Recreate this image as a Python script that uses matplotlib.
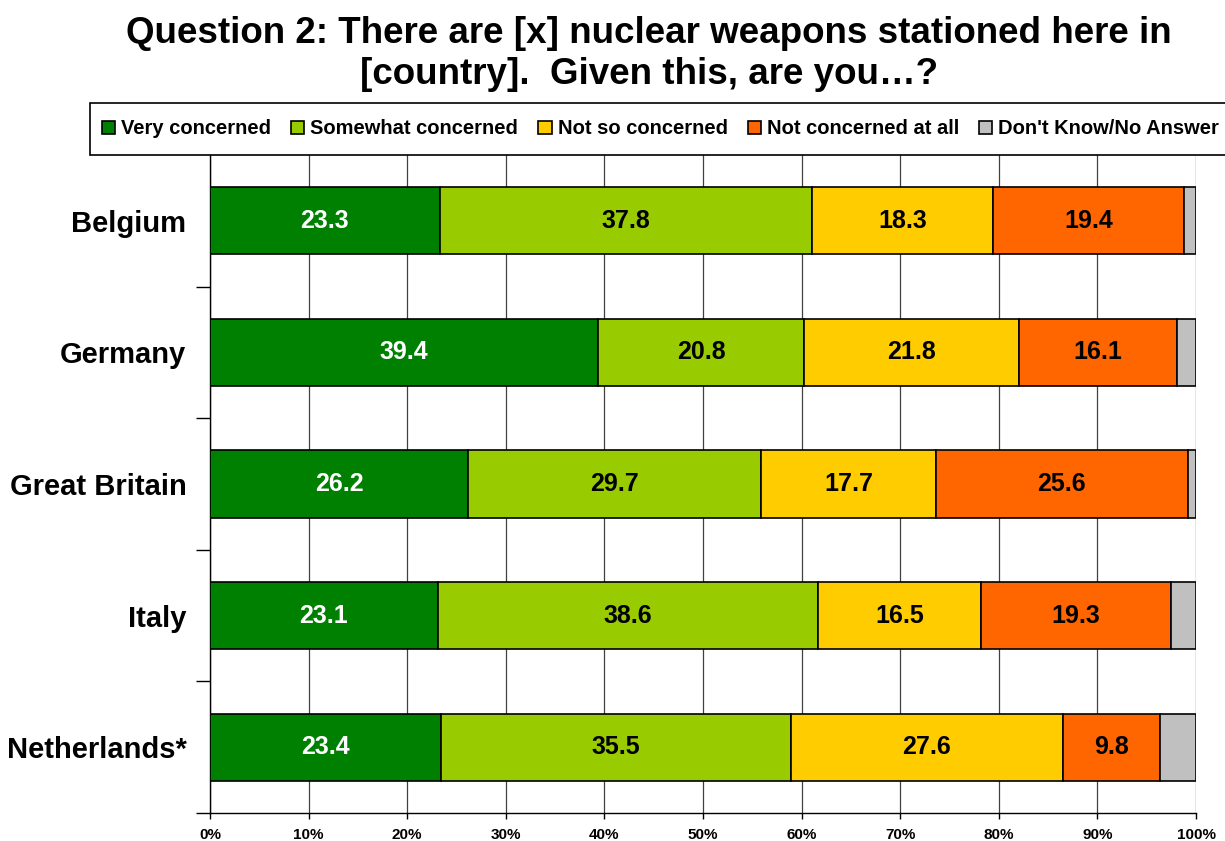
import matplotlib
matplotlib.use("Agg")
import matplotlib.pyplot as plt
import numpy as np
from matplotlib.patches import Patch, Rectangle
from matplotlib.ticker import FixedLocator, PercentFormatter

plt.rcParams['font.family'] = ['Liberation Sans', 'DejaVu Sans']

countries = ["Belgium", "Germany", "Great Britain", "Italy", "Netherlands*"]
series_names = ["Very concerned", "Somewhat concerned", "Not so concerned",
                "Not concerned at all", "Don't Know/No Answer"]
very = [23.3, 39.4, 26.2, 23.1, 23.4]
somewhat = [37.8, 20.8, 29.7, 38.6, 35.5]
not_so = [18.3, 21.8, 17.7, 16.5, 27.6]
not_at_all = [19.4, 16.1, 25.6, 19.3, 9.8]
dont_know = [1.2, 1.9, 0.8, 2.5, 3.7]
x_ticks = [0, 10, 20, 30, 40, 50, 60, 70, 80, 90, 100]

colors = ["#008000", "#99CC00", "#FFCC00", "#FF6600", "#C0C0C0"]
text_colors = ["white", "black", "black", "black", None]

W, H = 1225, 841
fig = plt.figure(figsize=(W/100, H/100), dpi=100)
ax = fig.add_axes([210/W, 1-813/H, (1196-210)/W, (813-155)/H])

y = np.arange(len(countries))
left = np.zeros(len(countries))
all_series = [very, somewhat, not_so, not_at_all, dont_know]
for vals, name, col, tc in zip(all_series, series_names, colors, text_colors):
    vals = np.array(vals)
    cont = ax.barh(y, vals, left=left, height=0.51, color=col,
                   edgecolor="black", linewidth=1.2, label=name, zorder=3)
    if tc is not None:
        ax.bar_label(cont, labels=[f"{v:.1f}" for v in vals], label_type="center",
                     color=tc, fontsize=18, fontweight="bold", zorder=4)
    left += vals

ax.set_xlim(0, 100)
ax.set_ylim(len(countries) - 0.5, -0.5)
ax.set_xticks(x_ticks)
ax.xaxis.set_major_formatter(PercentFormatter(decimals=0))
ax.set_yticks(y)
ax.set_yticklabels(countries, fontsize=21, fontweight="bold")
ax.yaxis.set_minor_locator(FixedLocator(np.arange(0.5, len(countries), 1.0)))
ax.tick_params(axis="y", which="major", length=0, pad=17)
ax.tick_params(axis="y", which="minor", length=10, width=1.0, direction="out")
ax.tick_params(axis="x", which="major", length=4, width=1.0, direction="out",
               pad=6.5, labelsize=11)
for lbl in ax.get_xticklabels():
    lbl.set_fontweight("bold")

ax.grid(axis="x", color="#404040", linewidth=0.9, zorder=0)
ax.set_axisbelow(True)
for s in ["top", "right"]:
    ax.spines[s].set_visible(False)
for s in ["left", "bottom"]:
    ax.spines[s].set_linewidth(1.0)
    ax.spines[s].set_color("black")

# legend frame (extends past right edge as in the reference)
fig.patches.append(Rectangle((90/W, 1-155/H), (1240-90)/W, (155-103)/H,
                             transform=fig.transFigure, facecolor="white",
                             edgecolor="black", linewidth=1.2, zorder=1))

handles = [Patch(facecolor=c, edgecolor="black", linewidth=1.2) for c in colors]
leg = fig.legend(handles, series_names, loc="center left",
                 bbox_to_anchor=(102/W, 1-129/H), borderaxespad=0, borderpad=0,
                 ncol=5, prop={"weight": "bold", "size": 14.5},
                 handlelength=0.65, handleheight=0.65, handletextpad=0.3,
                 columnspacing=1.0, frameon=False)
leg.set_zorder(2)

fig.text(649/W, 1-16/H,
         "Question 2: There are [x] nuclear weapons stationed here in\n[country].  Given this, are you\u2026?",
         ha="center", va="top", fontsize=26.5, fontweight="bold", linespacing=1.22)

fig.savefig("out.png", dpi=100)
